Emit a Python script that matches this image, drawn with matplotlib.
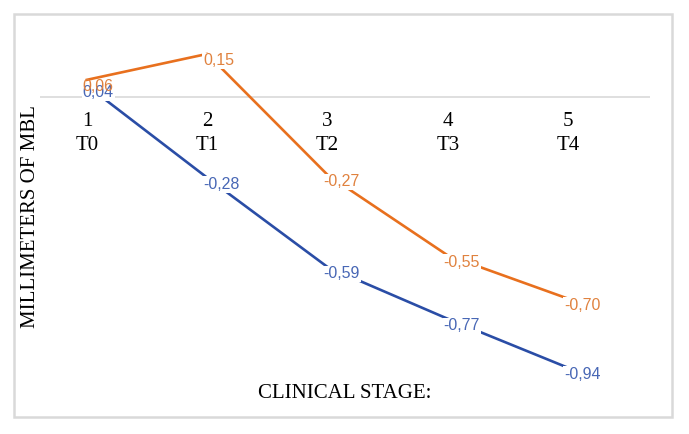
import matplotlib.pyplot as plt
from matplotlib.patches import Rectangle

stages = ['1\nT0', '2\nT1', '3\nT2', '4\nT3', '5\nT4']
orange_vals = [0.06, 0.15, -0.27, -0.55, -0.70]
blue_vals = [0.04, -0.28, -0.59, -0.77, -0.94]

orange = '#E8701E'
blue = '#2A4DA6'
orange_lbl = '#E0823F'
blue_lbl = '#4867B5'

fig = plt.figure(figsize=(6.89, 4.34), dpi=100)
ax = fig.add_axes([40/689, 1 - 390/434, 610/689, 360/434])

# light grey frame around the whole chart
fig.patches.append(Rectangle((14/689, 1 - 417/434), 658/689, 403/434,
                             transform=fig.transFigure, fill=False,
                             edgecolor='#d9d9d9', linewidth=1.8))

x = list(range(len(stages)))
ax.axhline(0, color='#d9d9d9', linewidth=1.2, zorder=1)
ax.plot(x, blue_vals, color=blue, linewidth=1.9, zorder=2)
ax.plot(x, orange_vals, color=orange, linewidth=1.9, zorder=2)

def fmt(v):
    return ('%.2f' % v).replace('.', ',')

for xi, v in zip(x, blue_vals):
    ax.annotate(fmt(v), (xi, v), xytext=(-3, -5), textcoords='offset points',
                ha='left', va='center', fontsize=11.5, color=blue_lbl,
                family='Liberation Sans', zorder=4,
                bbox=dict(boxstyle='square,pad=0.05', fc='white', ec='none'))
for xi, v in zip(x, orange_vals):
    ax.annotate(fmt(v), (xi, v), xytext=(-3, -5), textcoords='offset points',
                ha='left', va='center', fontsize=11.5, color=orange_lbl,
                family='Liberation Sans', zorder=4,
                bbox=dict(boxstyle='square,pad=0.05', fc='white', ec='none')
                if xi != 0 else None)

for xi, s in zip(x, stages):
    ax.annotate(s, (xi, 0), xytext=(0, -11), textcoords='offset points',
                ha='center', va='top', fontsize=15, family='Liberation Serif',
                linespacing=1.3)

ax.set_xlim(-0.39, 4.68)
ax.set_ylim(-1.017, 0.233)
ax.axis('off')

fig.text(31/689, 1 - 217/434, 'MILLIMETERS OF MBL', rotation=90,
         ha='center', va='center', fontsize=15, family='Liberation Serif')
fig.text(345/689, 1 - 393/434, 'CLINICAL STAGE:', ha='center', va='center',
         fontsize=15, family='Liberation Serif')

fig.savefig('out.png', dpi=100)
